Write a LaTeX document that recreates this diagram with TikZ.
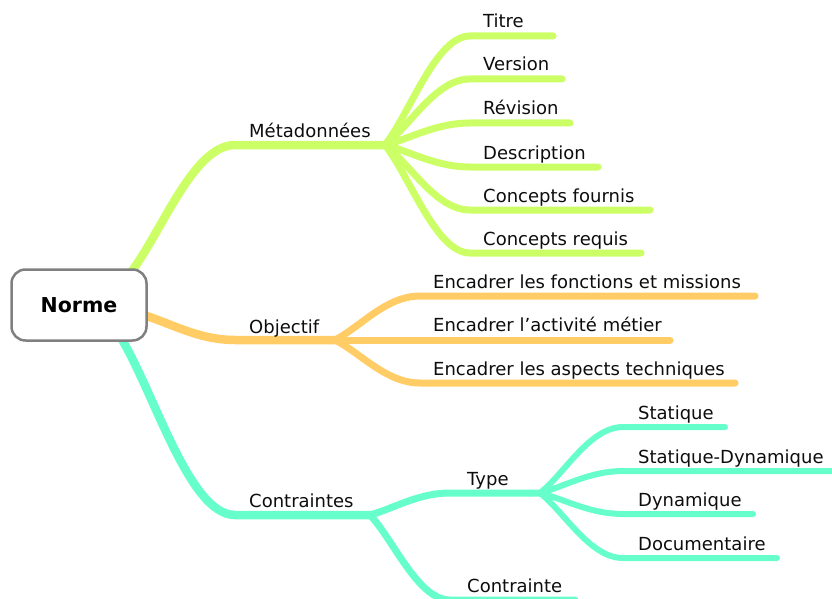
\documentclass[tikz,border=0pt]{standalone}
\usepackage{fontspec}
\setmainfont{DejaVu Sans}
\usetikzlibrary{calc}
\definecolor{mygreen}{RGB}{204,255,102}
\definecolor{myorange}{RGB}{255,204,102}
\definecolor{myteal}{RGB}{102,255,204}
\definecolor{mygray}{RGB}{128,128,128}

\begin{document}
\begin{tikzpicture}
[x=1pt, y=-1pt,
 curvy/.style={to path={let \p1=(\tikztostart), \p2=(\tikztotarget) in
   .. controls ($(\p1)!0.3!(\p2)$) and (0.4*\x1+0.6*\x2,\y2) .. (\p2)}},
 trunk/.style={line width=8.5pt, line cap=round},
 limb/.style={line width=7pt, line cap=round},
 twig/.style={line width=6pt, line cap=round},
 lbl/.style={anchor=base west, inner sep=0pt, text=black!95,
   font=\fontsize{18}{21}\selectfont},
 root/.style={rectangle, draw=mygray, line width=2.5pt, rounded corners=14pt,
   fill=white, minimum width=135pt, minimum height=71pt, text=black,
   font=\bfseries\fontsize{20.5}{24}\selectfont}]
\clip (0,0) rectangle (832,599);
% forks
\coordinate (gfork) at (385,145);
\coordinate (ofork) at (335,340);
\coordinate (cfork) at (370,515);
\coordinate (tfork) at (540,493);
% main branches
\coordinate (g0) at (128,276);
\coordinate (g1) at (235,145);
\draw[trunk, mygreen] (g0) to[curvy] (g1) -- (gfork);
\coordinate (o0) at (140,314);
\coordinate (o1) at (235,340);
\draw[trunk, myorange] (o0) to[curvy] (o1) -- (ofork);
\coordinate (c0) at (118,333);
\coordinate (c1) at (235,515);
\draw[trunk, myteal] (c0) to[curvy] (c1) -- (cfork);
% metadonnees
\coordinate (titre-s) at (470,36);   \coordinate (titre-e) at (553,36);
\coordinate (version-s) at (470,79); \coordinate (version-e) at (562,79);
\coordinate (revision-s) at (470,123); \coordinate (revision-e) at (570,123);
\coordinate (descr-s) at (470,167);  \coordinate (descr-e) at (598,167);
\coordinate (fournis-s) at (470,210); \coordinate (fournis-e) at (650,210);
\coordinate (requis-s) at (470,253); \coordinate (requis-e) at (641,253);
\draw[limb, mygreen] (gfork) to[curvy] (titre-s) -- (titre-e);
\draw[limb, mygreen] (gfork) to[curvy] (version-s) -- (version-e);
\draw[limb, mygreen] (gfork) to[curvy] (revision-s) -- (revision-e);
\draw[limb, mygreen] (gfork) to[curvy] (descr-s) -- (descr-e);
\draw[limb, mygreen] (gfork) to[curvy] (fournis-s) -- (fournis-e);
\draw[limb, mygreen] (gfork) to[curvy] (requis-s) -- (requis-e);
% objectif
\coordinate (obj1-s) at (420,296); \coordinate (obj1-e) at (755,296);
\coordinate (obj2-s) at (420,340); \coordinate (obj2-e) at (670,340);
\coordinate (obj3-s) at (420,383); \coordinate (obj3-e) at (735,383);
\draw[limb, myorange] (ofork) to[curvy] (obj1-s) -- (obj1-e);
\draw[limb, myorange] (ofork) -- (obj2-s) -- (obj2-e);
\draw[limb, myorange] (ofork) to[curvy] (obj3-s) -- (obj3-e);
% contraintes
\coordinate (type-s) at (450,493);
\coordinate (ctr-s) at (450,600); \coordinate (ctr-e) at (575,600);
\draw[limb, myteal] (cfork) to[curvy] (type-s) -- (tfork);
\draw[limb, myteal] (cfork) to[curvy] (ctr-s) -- (ctr-e);
\coordinate (stat-s) at (623,427);  \coordinate (stat-e) at (725,427);
\coordinate (sdyn-s) at (623,471);  \coordinate (sdyn-e) at (845,471);
\coordinate (dyn-s) at (623,514);   \coordinate (dyn-e) at (753,514);
\coordinate (doc-s) at (623,558);   \coordinate (doc-e) at (777,558);
\draw[twig, myteal] (tfork) to[curvy] (stat-s) -- (stat-e);
\draw[twig, myteal] (tfork) to[curvy] (sdyn-s) -- (sdyn-e);
\draw[twig, myteal] (tfork) to[curvy] (dyn-s) -- (dyn-e);
\draw[twig, myteal] (tfork) to[curvy] (doc-s) -- (doc-e);
% labels
\node[root] (norme) at (79,305) {Norme};
\node[lbl] (meta) at (249,137) {Métadonnées};
\node[lbl] (objectif) at (249,333) {Objectif};
\node[lbl] (contraintes) at (249,507) {Contraintes};
\node[lbl] (titre) at (483,28) {Titre};
\node[lbl] (version) at (483,71) {Version};
\node[lbl] (revision) at (483,115) {Révision};
\node[lbl] (descr) at (483,159) {Description};
\node[lbl] (fournis) at (483,202) {Concepts fournis};
\node[lbl] (requis) at (483,245) {Concepts requis};
\node[lbl] (obj1) at (433,288) {Encadrer les fonctions et missions};
\node[lbl] (obj2) at (433,331) {Encadrer l’activité métier};
\node[lbl] (obj3) at (433,375) {Encadrer les aspects techniques};
\node[lbl] (type) at (467,485) {Type};
\node[lbl] (ctr) at (467,592) {Contrainte};
\node[lbl] (stat) at (638,419) {Statique};
\node[lbl] (sdyn) at (638,463) {Statique-Dynamique};
\node[lbl] (dyn) at (638,506) {Dynamique};
\node[lbl] (doc) at (638,550) {Documentaire};
\end{tikzpicture}
\end{document}
